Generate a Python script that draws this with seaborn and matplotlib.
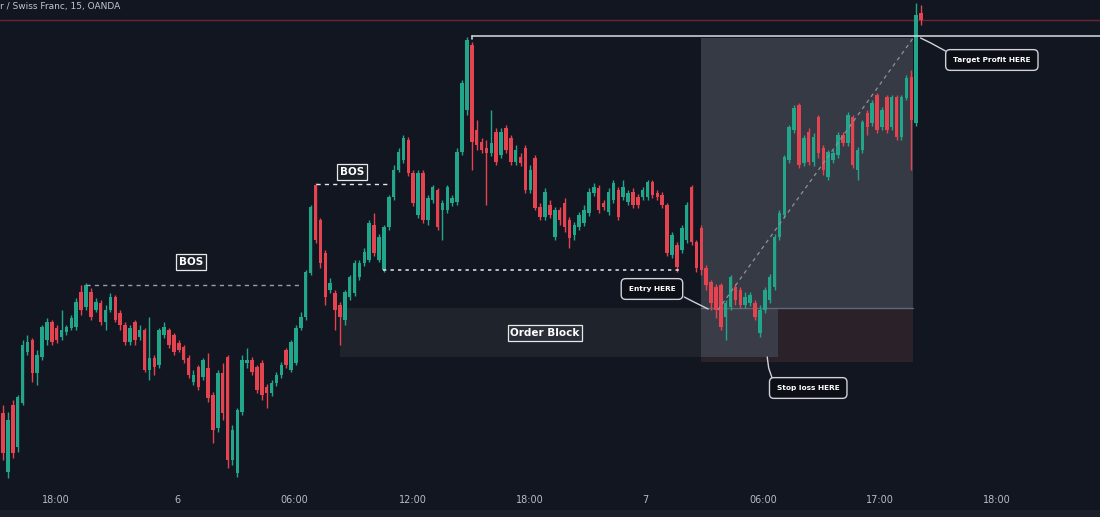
import numpy as np
import pandas as pd
import matplotlib
matplotlib.use("Agg")
import matplotlib.pyplot as plt
import seaborn as sns
from matplotlib.patches import Rectangle

sns.set_theme(style="dark")
plt.rcParams['font.family'] = ['DejaVu Sans']

# ---------------- data (15-minute candles, price in chart points) ----------------
opens = [87, 28, 95, 53, 97, 148, 160, 127, 143, 160,
         178, 172, 163, 168, 172, 173, 208, 193, 208, 190,
         197, 178, 190, 203, 187, 175, 158, 178, 163, 170,
         130, 142, 135, 165, 170, 165, 157, 153, 142, 118,
         133, 123, 132, 105, 72, 127, 143, 40, 27, 88,
         137, 140, 133, 137, 113, 107, 117, 125, 150, 130,
         137, 172, 183, 227, 315, 280, 247, 210, 207, 195,
         180, 203, 207, 223, 237, 240, 275, 240, 230, 273,
         303, 330, 340, 360, 327, 285, 327, 280, 300, 310,
         290, 290, 297, 298, 348, 390, 455, 370, 358, 352,
         347, 368, 345, 372, 362, 338, 343, 352, 310, 342,
         293, 283, 295, 263, 290, 297, 280, 265, 273, 277,
         287, 307, 312, 297, 288, 300, 310, 303, 298, 308,
         303, 303, 303, 318, 307, 305, 295, 245, 255, 250,
         260, 313, 258, 272, 232, 218, 213, 215, 183, 193,
         213, 210, 195, 197, 197, 167, 190, 200, 213, 263,
         285, 340, 370, 395, 337, 368, 338, 383, 352, 323,
         340, 345, 365, 357, 383, 330, 350, 387, 377, 405,
         373, 403, 373, 403, 363, 402, 423, 377, 487]
highs = [95, 88, 100, 105, 160, 165, 162, 150, 175, 182,
         180, 175, 190, 175, 185, 202, 215, 217, 212, 202,
         200, 195, 207, 205, 190, 178, 175, 180, 175, 172,
         183, 145, 172, 178, 172, 167, 160, 155, 145, 130,
         135, 142, 147, 108, 130, 137, 145, 75, 92, 145,
         152, 143, 135, 140, 116, 120, 128, 138, 152, 160,
         175, 188, 230, 295, 317, 282, 250, 222, 210, 198,
         210, 225, 240, 240, 252, 280, 287, 266, 275, 305,
         335, 352, 365, 363, 330, 330, 330, 305, 315, 312,
         300, 315, 305, 352, 420, 463, 458, 380, 362, 360,
         390, 372, 372, 375, 365, 355, 347, 355, 335, 345,
         297, 312, 300, 293, 293, 302, 283, 278, 288, 295,
         312, 317, 315, 300, 312, 320, 313, 320, 310, 312,
         306, 313, 320, 320, 310, 308, 297, 268, 258, 275,
         298, 315, 260, 275, 235, 220, 216, 217, 200, 225,
         216, 213, 208, 208, 200, 195, 213, 226, 266, 290,
         345, 375, 395, 397, 365, 372, 367, 385, 355, 350,
         350, 368, 368, 388, 385, 353, 380, 390, 400, 407,
         393, 405, 405, 405, 405, 425, 430, 497, 495]
lows = [40, 22, 42, 48, 95, 145, 118, 115, 140, 155,
        155, 157, 160, 165, 170, 170, 185, 190, 180, 188,
        175, 170, 188, 178, 170, 155, 155, 155, 160, 128,
        120, 125, 132, 162, 152, 145, 148, 137, 122, 115,
        110, 120, 98, 57, 68, 80, 32, 35, 23, 85,
        132, 125, 107, 100, 92, 104, 114, 122, 132, 128,
        135, 170, 180, 225, 257, 232, 195, 207, 170, 155,
        175, 200, 204, 220, 234, 238, 244, 238, 228, 270,
        300, 328, 337, 324, 294, 282, 277, 275, 297, 270,
        260, 287, 294, 295, 345, 385, 330, 350, 347, 295,
        344, 335, 342, 347, 335, 335, 334, 307, 307, 290,
        280, 280, 282, 260, 275, 268, 252, 260, 270, 274,
        284, 304, 287, 290, 285, 297, 280, 300, 295, 292,
        292, 300, 300, 302, 300, 292, 244, 242, 228, 247,
        257, 255, 228, 225, 210, 190, 182, 170, 160, 190,
        195, 192, 192, 194, 180, 163, 187, 197, 210, 260,
        282, 337, 367, 332, 334, 335, 334, 342, 325, 320,
        337, 342, 354, 354, 332, 320, 347, 365, 374, 367,
        370, 367, 370, 360, 360, 400, 330, 374, 475]
closes = [47, 80, 47, 103, 155, 158, 127, 145, 173, 178,
          158, 160, 170, 173, 182, 198, 190, 215, 183, 198,
          178, 190, 203, 180, 175, 158, 172, 160, 170, 130,
          142, 133, 170, 173, 155, 148, 150, 140, 125, 125,
          113, 140, 102, 70, 127, 87, 40, 70, 90, 140,
          140, 128, 110, 105, 107, 117, 125, 135, 135, 158,
          172, 183, 228, 293, 260, 237, 203, 217, 190, 183,
          208, 223, 237, 237, 248, 277, 247, 263, 273, 303,
          330, 348, 362, 327, 297, 327, 280, 302, 313, 273,
          297, 313, 302, 348, 417, 460, 358, 355, 350, 347,
          357, 338, 368, 350, 338, 350, 337, 310, 330, 292,
          283, 308, 285, 290, 280, 273, 262, 275, 285, 290,
          308, 313, 290, 293, 308, 317, 283, 313, 307, 295,
          295, 310, 318, 305, 303, 295, 247, 265, 233, 272,
          295, 258, 232, 230, 215, 197, 190, 173, 197, 223,
          200, 195, 203, 205, 183, 190, 210, 223, 263, 287,
          343, 373, 392, 335, 362, 338, 363, 347, 330, 348,
          347, 365, 357, 385, 335, 350, 378, 373, 397, 370,
          390, 370, 403, 363, 403, 422, 380, 485, 480]

tick_labels = ["18:00", "6", "06:00", "12:00", "18:00", "7", "06:00", "17:00", "18:00"]
tick_pos = [10.85, 35.8, 59.6, 84.0, 107.9, 131.5, 155.6, 179.6, 203.6]

# key levels
bos1_level, bos1_start, bos1_end = 215, 17, 61
bos2_level, bos2_start, bos2_end = 316, 64, 79.3
sweep_level, sweep_start, sweep_end = 230, 77.8, 139.3
tp_level, tp_start = 464, 96
last_price = 480
ob_low, ob_high, ob_start, ob_end = 143, 192, 69, 143
entry, stop, target = 192, 138, 462
pos_start, pos_end, pos_mid = 143, 186.4, 158.7

# ---------------- styling ----------------
BG = '#121620'
GREEN = '#22a68b'
RED = '#e5434f'
TXT = '#b8bbc3'

df = pd.DataFrame({'i': np.arange(len(opens)), 'open': opens, 'high': highs,
                   'low': lows, 'close': closes})
df['up'] = df['close'] >= df['open']
df['color'] = np.where(df['up'], GREEN, RED)
df['bottom'] = df[['open', 'close']].min(axis=1)
df['height'] = (df['close'] - df['open']).abs().clip(lower=2)

fig = plt.figure(figsize=(11, 5.17), dpi=100)
fig.patch.set_facecolor(BG)
ax = fig.add_axes([0, 0, 1, 1])
ax.set_facecolor(BG)
ax.set_xlim(-0.61, 224.65)
ax.set_ylim(-17, 500)
ax.axis('off')

# zones
ax.add_patch(Rectangle((ob_start, ob_low), ob_end - ob_start, ob_high - ob_low,
                       facecolor='#1e232c', edgecolor='none', zorder=1))
ax.add_patch(Rectangle((pos_start, entry), pos_end - pos_start, target - entry,
                       facecolor='#363a44', edgecolor='none', zorder=1))
ax.add_patch(Rectangle((pos_start, stop), pos_end - pos_start, entry - stop,
                       facecolor='#2b2129', edgecolor='none', zorder=1))
ax.add_patch(Rectangle((pos_start, ob_low), pos_mid - pos_start, entry - ob_low,
                       facecolor='#3a3d47', edgecolor='none', zorder=1))
ax.plot([pos_start, pos_end], [entry, entry], color='#62667a', lw=1.0, zorder=2)

# bottom strip
ax.add_patch(Rectangle((-1, -17), 230, 7, facecolor='#1c202a', edgecolor='none', zorder=1))

# candles
ax.vlines(df['i'], df['low'], df['high'], colors=df['color'], linewidth=1.0, zorder=3)
ax.bar(df['i'], df['height'], bottom=df['bottom'], width=0.72, color=df['color'],
       linewidth=0, zorder=4)

# lines
ax.axhline(last_price, color='#6a2634', lw=1.0, zorder=2)
ax.plot([tp_start, 230], [tp_level, tp_level], color='#c9ccd2', lw=1.2, zorder=5)
ax.plot([tp_start, tp_start], [tp_level, tp_level - 3], color='#c9ccd2', lw=1.2, zorder=5)
ax.plot([bos1_start, bos1_end], [bos1_level, bos1_level], color='#9a9da6', lw=1.0,
        ls=(0, (3, 3)), zorder=5)
ax.plot([bos2_start, bos2_end], [bos2_level, bos2_level], color='#e6e7ea', lw=1.0,
        ls=(0, (3, 3)), zorder=5)
ax.plot([sweep_start, sweep_end], [sweep_level, sweep_level], color='#d8d9dc', lw=1.2,
        ls=(0, (2, 2.5)), zorder=5)
diag = pd.DataFrame({'x': [146.4, pos_end], 'y': [190, target]})
sns.lineplot(data=diag, x='x', y='y', ax=ax, color='#8e929c', lw=0.9,
             linestyle=(0, (3, 3)), zorder=5)
ax.set_xlabel('')
ax.set_ylabel('')
ax.axis('off')

# labels
lab = dict(color='white', fontweight='bold', ha='center', va='center', zorder=8)
ax.text(38.5, 238, 'BOS', fontsize=7.5,
        bbox=dict(boxstyle='square,pad=0.25', fc='#1b1f28', ec='#e8e8ea', lw=0.9), **lab)
ax.text(71.5, 328, 'BOS', fontsize=7.5,
        bbox=dict(boxstyle='square,pad=0.25', fc='#1b1f28', ec='#e8e8ea', lw=0.9), **lab)
ax.text(111, 167, 'Order Block', fontsize=7.5,
        bbox=dict(boxstyle='square,pad=0.25', fc='#2a2e37', ec='#e8e8ea', lw=0.9), **lab)

call = dict(boxstyle='round,pad=1.0,rounding_size=0.6', fc='#0c0f15', ec='#cfd2d8', lw=1.0)
ax.text(132.9, 211, 'Entry HERE', fontsize=5.3, bbox=call, **lab)
ax.text(202.5, 440, 'Target Profit HERE', fontsize=5.3, bbox=call, **lab)
ax.text(164.9, 112, 'Stop loss HERE', fontsize=5.3, bbox=call, **lab)
# callout tails
ax.plot([139.5, 141.5, 144.4], [203, 198, 191], color='#cfd2d8', lw=1.0, zorder=7)
ax.plot([193.0, 190.0, 187.9], [449, 457, 462], color='#cfd2d8', lw=1.0, zorder=7)
ax.plot([157.5, 156.8, 156.5], [122, 132, 143], color='#cfd2d8', lw=1.0, zorder=7)

# title and time axis
ax.text(-0.6, 493, 'r / Swiss Franc, 15, OANDA', fontsize=6.5, color='#c3c6cd',
        ha='left', va='center', zorder=9)
for p, t in zip(tick_pos, tick_labels):
    ax.text(p, 0, t, fontsize=7, color=TXT, ha='center', va='center', zorder=9)

fig.savefig('out.png', dpi=100, facecolor=BG)
